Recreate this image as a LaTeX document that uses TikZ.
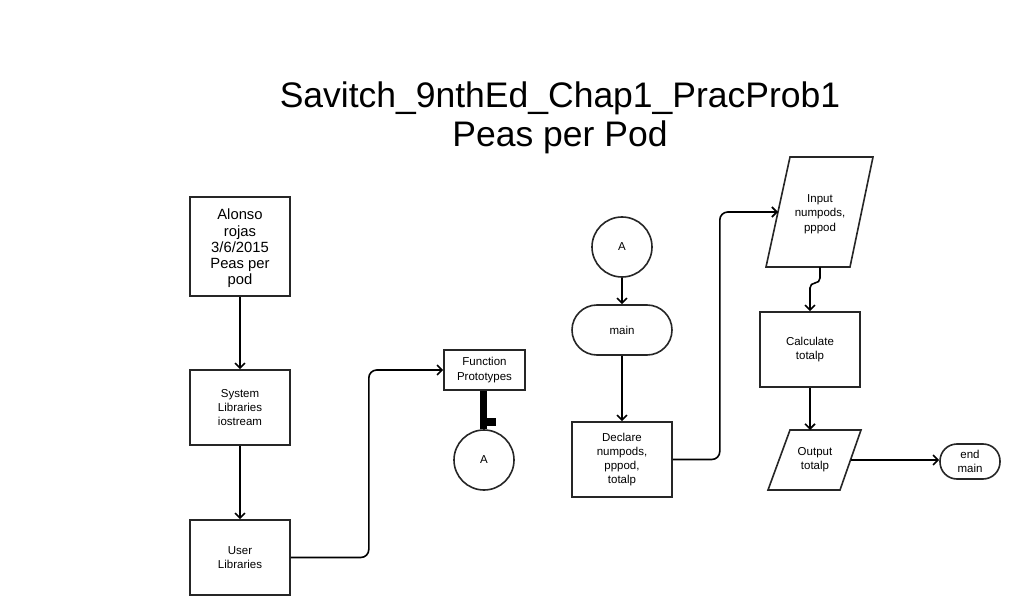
\documentclass[tikz,border=0pt]{standalone}
\usepackage{fontspec}
\setmainfont{Liberation Sans}
\usetikzlibrary{arrows.meta,calc}
\begin{document}
\begin{tikzpicture}[x=1pt,y=-1pt,
  every node/.style={font=\fontsize{11.5}{14.3}\selectfont, align=center, inner sep=0pt},
  line/.style={draw=black!85, line width=1.6pt},
  box/.style={line, minimum width=100pt, minimum height=75pt},
  pill/.style={line, rounded corners=#1},
  circ/.style={line, circle, minimum size=60pt},
  arr/.style={draw=black, line width=1.6pt, -{Straight Barb[length=5pt,width=10pt,line width=1.6pt]}}
]
\useasboundingbox (0,0) rectangle (1026,615);
\fill[white] (0,0) rectangle (1026,615);

\node[font=\fontsize{35.5}{39}\selectfont] (title) at (560,118) {Savitch\_9nthEd\_Chap1\_PracProb1\\Peas per Pod};

\node[box, minimum height=99pt] (alonso) at (240,246.5) {};
\node[font=\fontsize{14.8}{16.3}\selectfont] (alonsoT) at (240,248.5) {Alonso\\rojas\\3/6/2015\\Peas per\\pod};
\node[box] (sys) at (240,407.5) {System\\Libraries\\iostream};
\node[box] (user) at (240,557.5) {User\\Libraries};
\node[line, minimum width=81pt, minimum height=40pt] (fp) at (484.5,370) {Function\\Prototypes};
\node[circ] (cA) at (484,460) {A};

\node[circ] (cA2) at (622,247) {A};
\node[pill=25pt, minimum width=100pt, minimum height=50pt] (main) at (622,330) {main};
\node[box] (decl) at (622,459.5) {Declare\\numpods,\\pppod,\\totalp};

% Input parallelogram
\node (inp) at (820,214) {Input\\numpods,\\pppod};
\coordinate (inpC) at (820,212);
\draw[line, line join=miter] ($(inpC)+(-30,-55)$) -- ($(inpC)+(53,-55)$) -- ($(inpC)+(30,55)$) -- ($(inpC)+(-54,55)$) -- cycle;
\coordinate (inpW) at ($(inpC)+(-42,0)$);
\coordinate (inpS) at ($(inpC)+(0,55)$);

\node[box] (calc) at (810,349.5) {Calculate\\totalp};

% Output parallelogram
\node (outp) at (815,460) {Output\\totalp};
\draw[line, line join=miter] ($(outp.center)+(-25,-30)$) -- ($(outp.center)+(46,-30)$) -- ($(outp.center)+(25,30)$) -- ($(outp.center)+(-47,30)$) -- cycle;
\coordinate (outN) at ($(outp.center)+(0,-30)$);
\coordinate (outE) at ($(outp.center)+(35.5,0)$);

\node[pill=17pt, minimum width=60pt, minimum height=35pt] (endm) at (970,461.5) {end\\main};

\draw[arr] (alonso) -- (sys);
\draw[arr] (sys) -- (user);
\draw[arr, rounded corners=8pt] (user.east) -- ++(78,0) |- (fp.west);
\fill ($(fp.south)+(-4.5,0)$) rectangle ($(cA.north)+(3,0)$);
\fill ($(fp.south)+(2.5,27)$) rectangle ($(fp.south)+(11.5,35)$);

\draw[arr] (cA2) -- (main);
\draw[arr] (main) -- (decl);
\draw[arr, rounded corners=8pt] (decl.east) -- ++(47,0) |- (inpW);
\draw[arr, rounded corners=5pt] (inpS) -- ++(0,16) -| (calc.north);
\draw[arr] (calc.south) -- (calc.south |- outN);
\draw[arr] (outE) -- (outE -| endm.west);
\end{tikzpicture}
\end{document}
